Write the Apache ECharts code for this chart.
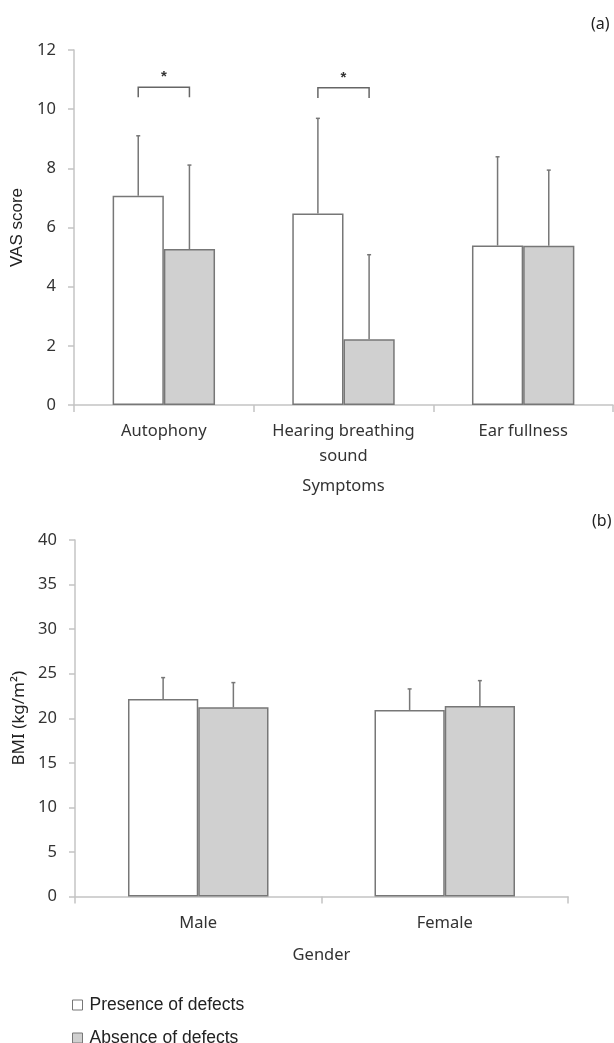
<!DOCTYPE html>
<html>
<head>
<meta charset="utf-8">
<script src="https://cdn.jsdelivr.net/npm/echarts@6/dist/echarts.min.js"></script>
<style>
  html, body { margin: 0; padding: 0; background: #fff; }
  #main { width: 614px; height: 1043px; }
</style>
</head>
<body>
<div id="main"></div>
<script>
// (a) symptoms
var symptoms = ['Autophony', 'Hearing breathing\nsound', 'Ear fullness'];
var vasPresence = [7.07, 6.47, 5.39];
var vasPresenceSd = [2.03, 3.22, 3.0];
var vasAbsence = [5.27, 2.22, 5.38];
var vasAbsenceSd = [2.84, 2.86, 2.56];
// significance brackets: category index, bracket top, leg end
var sigCats = [0, 1];
var sigTop = [10.74, 10.72];
var sigLeg = [10.4, 10.38];

// (b) gender
var genders = ['Male', 'Female'];
var bmiPresence = [22.17, 20.93];
var bmiPresenceSd = [2.39, 2.36];
var bmiAbsence = [21.23, 21.38];
var bmiAbsenceSd = [2.77, 2.84];

var seriesNames = ['Presence of defects', 'Absence of defects'];

var gapRatio = 0.43;
var edge = '#777';
var axisGray = '#c4c4c4';
var txt = '#333';
var numFont = 'Noto Sans';

function errData(vals, sds) {
    var out = [];
    for (var i = 0; i < vals.length; i++) {
        out.push([i, vals[i], sds[i]]);
    }
    return out;
}

// side -1 = left bar, +1 = right bar
function errorBars(side) {
    return function (params, api) {
        var cat = api.value(0);
        var base = api.coord([cat, api.value(1)]);
        var top = api.coord([cat, api.value(1) + api.value(2)]);
        var bandW = api.size([1, 0])[0];
        var barW = bandW * (1 - gapRatio) / 2;
        var x = base[0] + side * barW / 2;
        return {
            type: 'group',
            children: [
                { type: 'line', shape: { x1: x, y1: base[1], x2: x, y2: top[1] }, style: { stroke: edge, lineWidth: 1.5 } },
                { type: 'line', shape: { x1: x - 2, y1: top[1], x2: x + 2, y2: top[1] }, style: { stroke: edge, lineWidth: 1.5 } }
            ]
        };
    };
}

function bracket(params, api) {
    var cat = api.value(0);
    var pTop = api.coord([cat, api.value(1)]);
    var pLeg = api.coord([cat, api.value(2)]);
    var bandW = api.size([1, 0])[0];
    var barW = bandW * (1 - gapRatio) / 2;
    var xl = pTop[0] - barW / 2, xr = pTop[0] + barW / 2;
    return {
        type: 'group',
        children: [
            { type: 'polyline', shape: { points: [[xl, pLeg[1]], [xl, pTop[1]], [xr, pTop[1]], [xr, pLeg[1]]] },
              style: { stroke: '#666', lineWidth: 1.5, fill: null } },
            { type: 'text', x: pTop[0], y: pTop[1] - 3,
              style: { text: '*', fill: '#333', font: 'bold 15px Liberation Sans', textAlign: 'center', textVerticalAlign: 'bottom' } }
        ]
    };
}

var sigData = [];
for (var k = 0; k < sigCats.length; k++) {
    sigData.push([sigCats[k], sigTop[k], sigLeg[k]]);
}

function catAxis(idx, data, name, gap) {
    return {
        type: 'category',
        gridIndex: idx,
        data: data,
        name: name,
        nameLocation: 'middle',
        nameGap: gap,
        nameTextStyle: { fontFamily: numFont, fontSize: 16.5, color: txt },
        axisLine: { lineStyle: { color: axisGray, width: 1.5 } },
        axisTick: { show: true, length: 7, lineStyle: { color: axisGray, width: 1.5 } },
        axisLabel: { fontFamily: numFont, fontSize: 16.5, color: txt, margin: 14, lineHeight: 25, interval: 0 }
    };
}

function valAxis(idx, max, step, name, nameFont) {
    return {
        type: 'value',
        gridIndex: idx,
        min: 0,
        max: max,
        interval: step,
        name: name,
        nameLocation: 'middle',
        nameGap: 47,
        nameTextStyle: { fontFamily: nameFont, fontSize: 17, color: '#222' },
        splitLine: { show: false },
        axisLine: { show: true, lineStyle: { color: axisGray, width: 1.5 } },
        axisTick: { show: true, length: 6, lineStyle: { color: axisGray, width: 1.5 } },
        axisLabel: { fontFamily: numFont, fontSize: 16.5, color: txt, margin: 18 }
    };
}

function barSeries(name, idx, data, fill) {
    return {
        name: name,
        type: 'bar',
        xAxisIndex: idx,
        yAxisIndex: idx,
        data: data,
        barGap: '0%',
        barCategoryGap: (gapRatio * 100) + '%',
        itemStyle: { color: fill, borderColor: edge, borderWidth: 1.5 }
    };
}

function errSeries(idx, data, side) {
    return {
        type: 'custom',
        xAxisIndex: idx,
        yAxisIndex: idx,
        data: data,
        renderItem: errorBars(side),
        z: 5,
        silent: true
    };
}

function legendRow(name, top) {
    return {
        left: 67,
        top: top,
        icon: 'rect',
        itemWidth: 10,
        itemHeight: 10,
        data: [name],
        itemStyle: { borderColor: edge, borderWidth: 1 },
        textStyle: { fontFamily: 'Liberation Sans', fontSize: 17.5, color: '#222', padding: [0, 0, 0, 2] }
    };
}

var myChart = echarts.init(document.getElementById('main'));
var option = {
    animation: false,
    backgroundColor: '#fff',
    title: [
        { text: '(a)', left: 586, top: 11, textStyle: { fontFamily: numFont, fontSize: 16, fontWeight: 'normal', color: '#222' } },
        { text: '(b)', left: 587, top: 508, textStyle: { fontFamily: numFont, fontSize: 16, fontWeight: 'normal', color: '#222' } }
    ],
    grid: [
        { left: 74, top: 50, width: 539, height: 355 },
        { left: 75, top: 540, width: 493, height: 356.5 }
    ],
    legend: [
        legendRow(seriesNames[0], 991),
        legendRow(seriesNames[1], 1024)
    ],
    xAxis: [
        catAxis(0, symptoms, 'Symptoms', 73),
        catAxis(1, genders, 'Gender', 50)
    ],
    yAxis: [
        valAxis(0, 12, 2, 'VAS score', 'Liberation Sans'),
        valAxis(1, 40, 5, 'BMI (kg/m²)', numFont)
    ],
    series: [
        barSeries(seriesNames[0], 0, vasPresence, '#ffffff'),
        barSeries(seriesNames[1], 0, vasAbsence, '#d0d0d0'),
        errSeries(0, errData(vasPresence, vasPresenceSd), -1),
        errSeries(0, errData(vasAbsence, vasAbsenceSd), 1),
        {
            type: 'custom',
            xAxisIndex: 0,
            yAxisIndex: 0,
            data: sigData,
            renderItem: bracket,
            z: 5,
            silent: true
        },
        barSeries(seriesNames[0], 1, bmiPresence, '#ffffff'),
        barSeries(seriesNames[1], 1, bmiAbsence, '#d0d0d0'),
        errSeries(1, errData(bmiPresence, bmiPresenceSd), -1),
        errSeries(1, errData(bmiAbsence, bmiAbsenceSd), 1)
    ]
};
myChart.setOption(option);
</script>
</body>
</html>
